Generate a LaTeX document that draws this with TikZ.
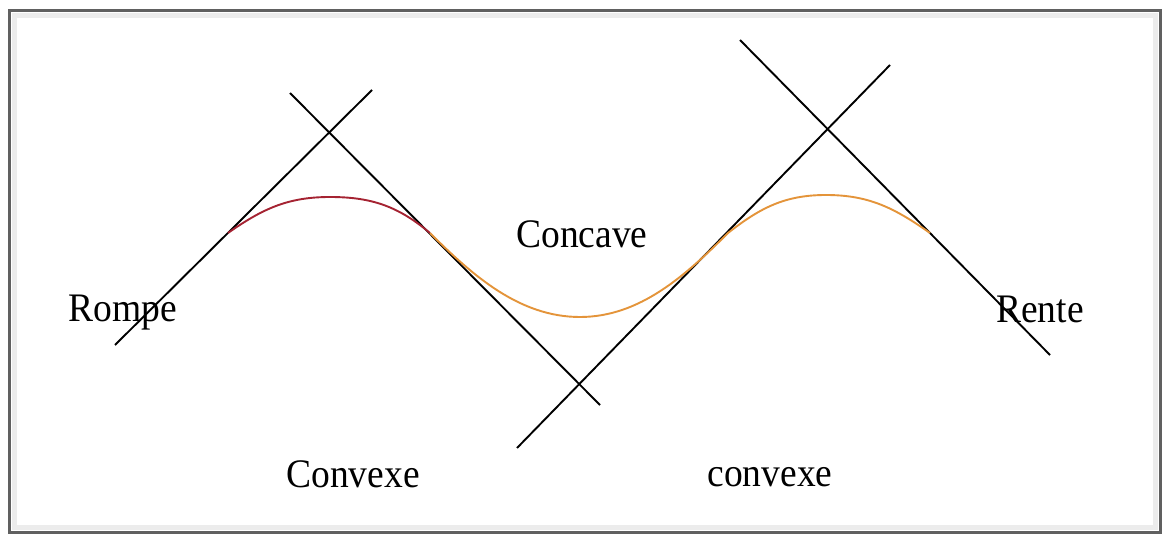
\documentclass[tikz,border=0pt]{standalone}
\usepackage{fontspec}
\setmainfont{Liberation Serif}
\begin{document}
\begin{tikzpicture}[x=1pt,y=-1pt,
  tangent/.style={draw=black,line width=1.9pt},
  redcurve/.style={draw={rgb,255:red,165;green,35;blue,50},line width=1.9pt},
  orangecurve/.style={draw={rgb,255:red,228;green,148;blue,58},line width=1.9pt},
  lbl/.style={font=\fontsize{37.5}{42}\selectfont,inner sep=0pt,anchor=base,yscale=1.08}]
\useasboundingbox (0,0) rectangle (1165,537);
\fill[white] (0,0) rectangle (1165,537);
% frame with shadow
\draw[gray!15,line width=5pt] (14,16) rectangle (1155,527);
\draw[gray!75!black,line width=3pt] (9,11) rectangle (1160,532);
% tangent lines
\coordinate (l1a) at (115,345); \coordinate (l1b) at (372,90);
\coordinate (l2a) at (290,93);  \coordinate (l2b) at (600,405);
\coordinate (l3a) at (517,448); \coordinate (l3b) at (890,65);
\coordinate (l4a) at (740,40);  \coordinate (l4b) at (1050,355);
\draw[tangent] (l1a) -- (l1b);
\draw[tangent] (l2a) -- (l2b);
\draw[tangent] (l3a) -- (l3b);
\draw[tangent] (l4a) -- (l4b);
% curve points
\coordinate (A) at (228,233);
\coordinate (P1) at (330,197);
\coordinate (B) at (430,233);
\coordinate (T) at (580,317);
\coordinate (C) at (728,233);
\coordinate (P2) at (826,195);
\coordinate (D) at (930,233);
\draw[redcurve] (A) to[out=35,in=180] (P1) to[out=0,in=140] (B);
\draw[orangecurve] (B) to[out=-45,in=180,looseness=0.9] (T) to[out=0,in=225,looseness=0.9] (C)
  to[out=38,in=180] (P2) to[out=0,in=145] (D);
% labels
\node[lbl] (rompe) at (122.5,322) {Rompe};
\node[lbl] (concave) at (582,248) {Concave};
\node[lbl] (rente) at (1040,323) {Rente};
\node[lbl] (convexe1) at (353,487) {Convexe};
\node[lbl] (convexe2) at (770,486) {convexe};
\end{tikzpicture}
\end{document}
